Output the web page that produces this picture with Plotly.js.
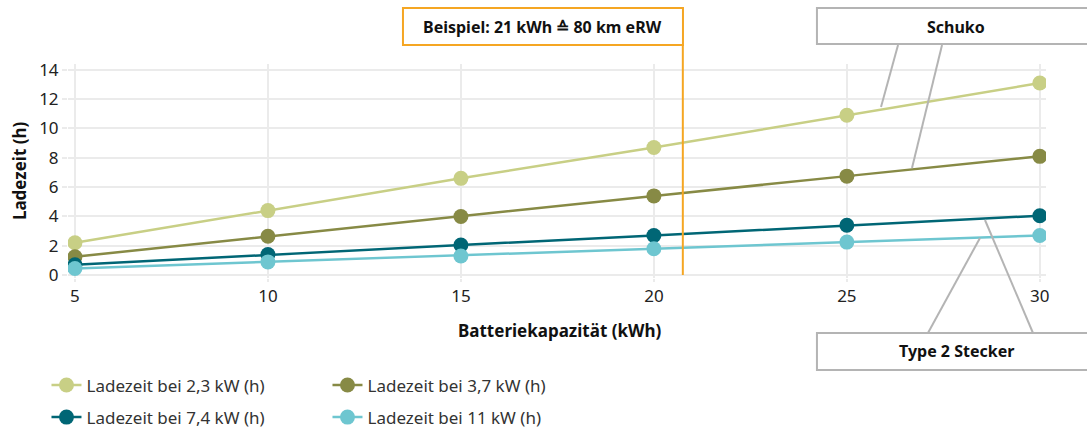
<!DOCTYPE html>
<html>
<head>
<meta charset="utf-8">
<script src="https://cdn.plot.ly/plotly-3.0.1.min.js"></script>
<style>html,body{margin:0;padding:0;background:#fff;}#chart{width:1087px;height:432px;}</style>
</head>
<body>
<div id="chart"></div>
<script>
// Data
const capacities = [5, 10, 15, 20, 25, 30];
const seriesNames = ["Ladezeit bei 2,3 kW (h)", "Ladezeit bei 3,7 kW (h)", "Ladezeit bei 7,4 kW (h)", "Ladezeit bei 11 kW (h)"];
const time23 = [2.2, 4.4, 6.6, 8.7, 10.9, 13.1];
const time37 = [1.25, 2.65, 4.0, 5.4, 6.75, 8.1];
const time74 = [0.7, 1.4, 2.05, 2.7, 3.4, 4.05];
const time11 = [0.45, 0.9, 1.3, 1.8, 2.25, 2.7];
const xTicks = [5, 10, 15, 20, 25, 30];
const yTicks = [0, 2, 4, 6, 8, 10, 12, 14];
const exampleCapacity = 20.75;
const exampleLabel = "Beispiel: 21 kWh ≙ 80 km eRW";
const xTitle = "Batteriekapazität (kWh)";
const yTitle = "Ladezeit (h)";

const colors = ["#c8cf85", "#878a45", "#006675", "#6ec6d0"];
const allSeries = [time23, time37, time74, time11];
const legendIds = ["legend", "legend", "legend2", "legend2"];
const FONT = "Noto Sans, Open Sans, sans-serif";

const traces = allSeries.map((ys, i) => ({
  x: capacities, y: ys, name: seriesNames[i], type: "scatter", mode: "lines+markers",
  line: {color: colors[i], width: 2.5},
  marker: {color: colors[i], size: 15},
  legend: legendIds[i]
}));

const gray = "#b4b4b4";
const layout = {
  width: 1087, height: 432,
  margin: {l: 68, r: 41, t: 64, b: 154, autoexpand: false},
  paper_bgcolor: "#fff", plot_bgcolor: "#fff",
  font: {family: FONT, color: "#222", size: 15},
  showlegend: true,
  xaxis: {
    range: [4.82, 30.16], tickvals: xTicks, showgrid: true, gridcolor: "#ebebeb", gridwidth: 2,
    zeroline: false, showline: false, ticks: "outside", ticklen: 3, tickcolor: "#ebebeb", tickwidth: 2,
    tickfont: {size: 17, color: "#222"}, automargin: false
  },
  yaxis: {
    range: [-0.2, 14.4], tickvals: yTicks, showgrid: true, gridcolor: "#ebebeb", gridwidth: 2,
    zeroline: false, showline: false, ticks: "outside", ticklen: 5, tickcolor: "#ebebeb", tickwidth: 2,
    tickfont: {size: 17, color: "#222"}, automargin: false
  },
  legend: {orientation: "h", x: -0.022, xanchor: "left", y: -0.418, yanchor: "top",
    font: {size: 17, color: "#333"}, entrywidth: 236, itemwidth: 30, bgcolor: "rgba(0,0,0,0)"},
  legend2: {orientation: "h", x: -0.022, xanchor: "left", y: -0.568, yanchor: "top",
    font: {size: 17, color: "#333"}, entrywidth: 236, itemwidth: 30, bgcolor: "rgba(0,0,0,0)"},
  shapes: [
    {type: "line", xref: "x", yref: "paper", x0: exampleCapacity, x1: exampleCapacity, y0: 0.014, y1: 1.089,
     line: {color: "#f5a623", width: 2}},
    {type: "rect", xref: "paper", yref: "paper", x0: 0.3425, x1: 0.6288, y0: 1.0888, y1: 1.2617,
     line: {color: "#f5a623", width: 2}, fillcolor: "#fff"},
    {type: "rect", xref: "paper", yref: "paper", x0: 0.7658, x1: 1.06, y0: 1.0935, y1: 1.2617,
     line: {color: gray, width: 2}, fillcolor: "#fff"},
    {type: "line", xref: "paper", yref: "paper", x0: 0.8487, y0: 1.0888, x1: 0.8313, y1: 0.799, line: {color: gray, width: 2}},
    {type: "line", xref: "paper", yref: "paper", x0: 0.8937, y0: 1.0888, x1: 0.863, y1: 0.514, line: {color: gray, width: 2}},
    {type: "rect", xref: "paper", yref: "paper", x0: 0.7658, x1: 1.06, y0: -0.257, y1: -0.43,
     line: {color: gray, width: 2}, fillcolor: "#fff"},
    {type: "line", xref: "paper", yref: "paper", x0: 0.9325, y0: 0.187, x1: 0.8793, y1: -0.257, line: {color: gray, width: 2}},
    {type: "line", xref: "paper", yref: "paper", x0: 0.9376, y0: 0.271, x1: 0.9867, y1: -0.257, line: {color: gray, width: 2}}
  ],
  annotations: [
    {xref: "paper", yref: "paper", x: 0.4856, y: 1.175, text: "<b>" + exampleLabel + "</b>", showarrow: false,
     font: {size: 16, color: "#111"}, xanchor: "center", yanchor: "middle"},
    {xref: "paper", yref: "paper", x: 0.908, y: 1.175, text: "<b>Schuko</b>", showarrow: false,
     font: {size: 16, color: "#111"}, xanchor: "center", yanchor: "middle"},
    {xref: "paper", yref: "paper", x: 0.908, y: -0.343, text: "<b>Type 2 Stecker</b>", showarrow: false,
     font: {size: 16, color: "#111"}, xanchor: "center", yanchor: "middle"},
    {xref: "paper", yref: "paper", x: 0.503, y: -0.245, text: "<b>" + xTitle + "</b>", showarrow: false,
     font: {size: 17, color: "#111"}, xanchor: "center", yanchor: "middle"},
    {xref: "paper", yref: "paper", x: -0.05, y: 0.5, text: "<b>" + yTitle + "</b>", showarrow: false, textangle: -90,
     font: {size: 17, color: "#111"}, xanchor: "center", yanchor: "middle"}
  ]
};

Plotly.newPlot("chart", traces, layout, {displayModeBar: false, staticPlot: true});
</script>
</body>
</html>
